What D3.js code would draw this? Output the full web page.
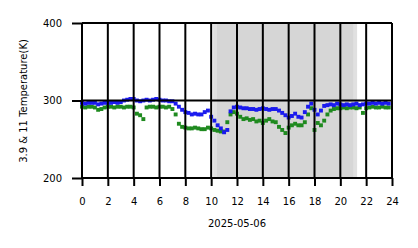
<!DOCTYPE html>
<html>
<head>
<meta charset="utf-8">
<script src="https://cdn.jsdelivr.net/npm/d3@7"></script>
<style>
  body { margin: 0; background: #fff; }
  text { font-family: "DejaVu Sans", sans-serif; }
</style>
</head>
<body>
<svg width="418" height="248"></svg>
<script>
// time grid: one sample every 15 minutes over the day
var stepHours = 0.25;

// 3.9 channel (blue), kelvin
var blueTemps = [
  297, 296, 297, 297,  297, 295, 296, 297,  297, 297, 298, 297,  298, 300, 301, 302,
  302, 300, 299, 300,  301, 300, 301, 302,  301, 300, 300, 299,  299, 296, 292, 288,
  285, 284, 282, 283,  282, 282, 285, 287,  279, 274, 268, 264,  259, 262, 286, 291,
  292, 291, 290, 290,  289, 289, 288, 289,  290, 289, 288, 289,  289, 287, 284, 281,
  278, 280, 283, 279,  278, 285, 292, 296,  288, 282, 287, 293,  294, 295, 294, 296,
  295, 294, 295, 294,  295, 296, 294, 295,  296, 296, 297, 296,  297, 296, 297, 296
];

// 11 channel (green), kelvin
var greenTemps = [
  292, 291, 292, 292,  291, 288, 289, 291,  292, 292, 291, 292,  292, 291, 292, 292,
  291, 283, 281, 276,  291, 292, 292, 291,  292, 292, 291, 292,  289, 282, 270, 266,
  265, 264, 264, 265,  264, 263, 263, 265,  264, 262, 261, 260,  260, 272, 282, 285,
  283, 279, 276, 277,  275, 276, 273, 274,  271, 274, 276, 273,  272, 266, 262, 258,
  265, 268, 270, 268,  268, 272, 282, 290,  262, 271, 268, 274,  282, 287, 289, 290,
  290, 291, 290, 291,  291, 290, 291, 284,  290, 291, 292, 291,  291, 292, 291, 291
];

var xTicks = [0, 2, 4, 6, 8, 10, 12, 14, 16, 18, 20, 22, 24];
var yTicks = [200, 300, 400];
var shadeRanges = [[10.15, 21.3], [10.45, 21.0]];
var dateLabel = "2025-05-06";
var yTitle = "3.9 & 11 Temperature(K)";

var svg = d3.select("svg");

var x = d3.scaleLinear().domain([0, 24]).range([82, 392]);
var y = d3.scaleLinear().domain([200, 400]).range([178, 23]);

// shaded period
svg.append("g")
  .selectAll("rect")
  .data(shadeRanges)
  .enter()
  .append("rect")
  .attr("x", function(d) { return x(d[0]); })
  .attr("width", function(d) { return x(d[1]) - x(d[0]); })
  .attr("y", y(400))
  .attr("height", y(200) - y(400))
  .attr("fill", "#000")
  .attr("fill-opacity", function(d, i) { return i == 0 ? 0.12 : 0.045; });

var ms = 3.9;
function drawSeries(values, color) {
  svg.append("g")
    .selectAll("rect")
    .data(values)
    .enter()
    .append("rect")
    .attr("x", function(d, i) { return x(i * stepHours) - ms / 2; })
    .attr("y", function(d) { return y(d) - ms / 2; })
    .attr("width", ms)
    .attr("height", ms)
    .attr("fill", color);
}
drawSeries(greenTemps, "#1f8a1f");
drawSeries(blueTemps, "#1a1aee");

// grid on top
var grid = svg.append("g").attr("stroke", "#000").attr("stroke-width", 2);
grid.selectAll("line.v")
  .data(xTicks)
  .enter()
  .append("line")
  .attr("class", "v")
  .attr("x1", function(d) { return x(d); })
  .attr("x2", function(d) { return x(d); })
  .attr("y1", y(400))
  .attr("y2", y(200));
grid.selectAll("line.h")
  .data(yTicks)
  .enter()
  .append("line")
  .attr("class", "h")
  .attr("x1", x(0))
  .attr("x2", x(24))
  .attr("y1", function(d) { return y(d); })
  .attr("y2", function(d) { return y(d); });

var xAxis = svg.append("g")
  .attr("transform", "translate(0," + y(200) + ")")
  .call(d3.axisBottom(x).tickValues(xTicks).tickSize(8).tickPadding(12));
var yAxis = svg.append("g")
  .attr("transform", "translate(" + x(0) + ",0)")
  .call(d3.axisLeft(y).tickValues(yTicks).tickSize(10).tickPadding(10));

[xAxis, yAxis].forEach(function(a) {
  a.select(".domain").remove();
  a.selectAll(".tick line").attr("stroke", "#000").attr("stroke-width", 2);
  a.selectAll(".tick text")
    .attr("fill", "#000")
    .style("font-family", "DejaVu Sans")
    .style("font-size", "10px");
});

svg.append("text")
  .attr("x", (x(0) + x(24)) / 2)
  .attr("y", 227)
  .attr("text-anchor", "middle")
  .style("font-size", "10px")
  .text(dateLabel);

svg.append("text")
  .attr("transform", "translate(27," + (y(300) + 0.5) + ") rotate(-90)")
  .attr("text-anchor", "middle")
  .style("font-size", "10px")
  .text(yTitle);
</script>
</body>
</html>
